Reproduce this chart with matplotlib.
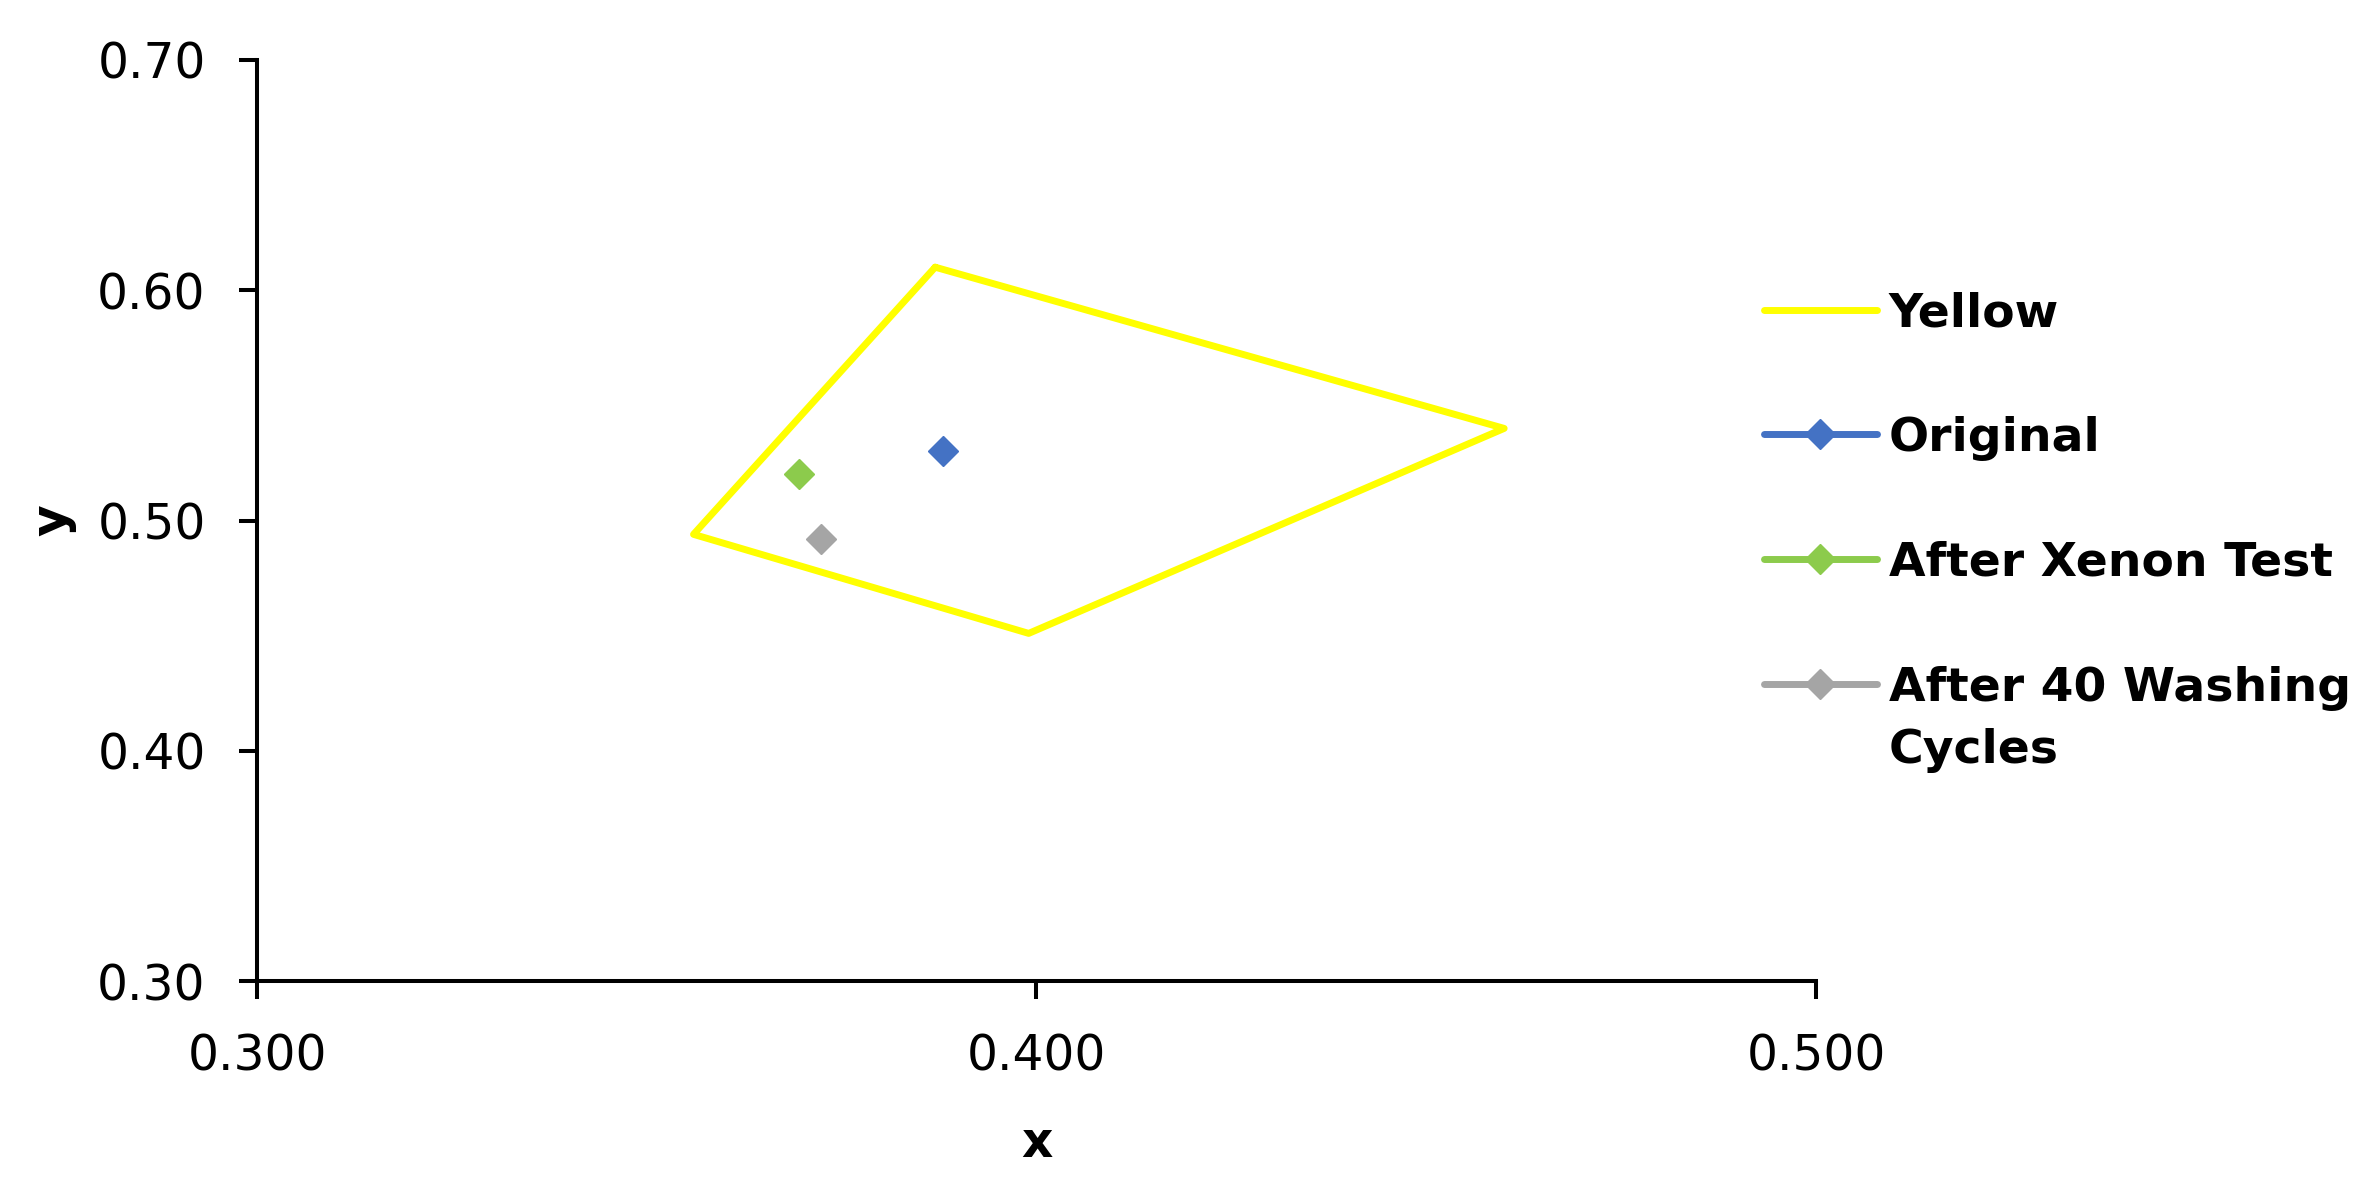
import matplotlib
matplotlib.use("Agg")
import matplotlib.pyplot as plt
import numpy as np

plt.rcParams['font.family'] = ['DejaVu Sans']

# Data
region_x = [0.387, 0.460, 0.399, 0.356, 0.387]
region_y = [0.610, 0.540, 0.451, 0.494, 0.610]
series_names = ["Original", "After Xenon Test", "After 40 Washing\nCycles"]
series_x = [0.388, 0.3695, 0.3724]
series_y = [0.530, 0.520, 0.492]
series_colors = ["#4472C4", "#8CCB4C", "#A5A5A5"]
xticks = [0.300, 0.400, 0.500]
yticks = [0.30, 0.40, 0.50, 0.60, 0.70]

fig = plt.figure(figsize=(23.8, 11.98), dpi=100)
ax = fig.add_axes([0.108, 0.181, 0.655, 0.769])

ax.plot(region_x, region_y, color="#FFFF00", lw=5, solid_joinstyle='round',
        solid_capstyle='round', label="Yellow")
for name, xv, yv, c in zip(series_names, series_x, series_y, series_colors):
    ax.plot([xv], [yv], color=c, lw=5, marker='D', ms=15, label=name,
            solid_capstyle='round')

ax.set_xlim(0.3, 0.5)
ax.set_ylim(0.3, 0.7)
ax.set_xticks(xticks)
ax.set_yticks(yticks)
ax.set_xticklabels([f"{v:.3f}" for v in xticks])
ax.set_yticklabels([f"{v:.2f}" for v in yticks])
for s in ['top', 'right']:
    ax.spines[s].set_visible(False)
for s in ['left', 'bottom']:
    ax.spines[s].set_linewidth(2.9)
ax.tick_params(axis='both', direction='out', length=13, width=2.9, labelsize=35, pad=24)
ax.set_xlabel('x', fontsize=35, fontweight='bold', labelpad=28)
ax.set_ylabel('y', fontsize=35, fontweight='bold', labelpad=15)

leg = ax.legend(loc='upper left', bbox_to_anchor=(0.741, 0.757), bbox_transform=fig.transFigure,
                frameon=False, fontsize=34, handlelength=2.4, handletextpad=0.25,
                labelspacing=1.69, borderpad=0, borderaxespad=0)
for t in leg.get_texts():
    t.set_fontweight('bold')
leg.get_texts()[3].set_linespacing(1.5)

# align last handle with first line of its two-line label
fig.canvas.draw()
r = fig.canvas.get_renderer()
texts = leg.get_texts()
hands = leg.legend_handles
def top_and_handle(i):
    bb = texts[i].get_window_extent(r)
    ln = hands[i]
    yd = ln.get_ydata()[0]
    hy = ln.get_transform().transform((0, yd))[1]
    return bb.y1, hy
t0, h0 = top_and_handle(0)
t3, h3 = top_and_handle(3)
d = t0 - h0
desired = t3 - d
shift_px = desired - h3
shift_pt = shift_px / (fig.dpi / 72.0)
ln = hands[3]
ln.set_ydata(np.asarray(ln.get_ydata()) + shift_pt)

fig.savefig("out.png", dpi=100)
